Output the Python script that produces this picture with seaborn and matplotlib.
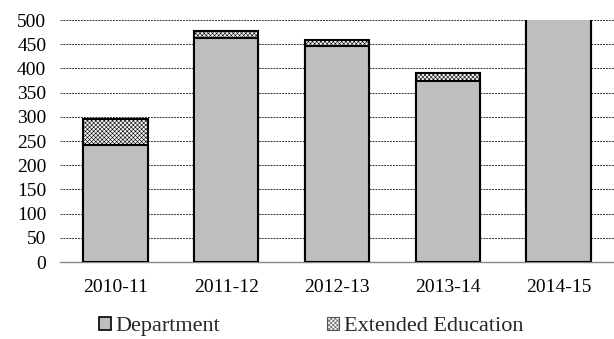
import numpy as np
import matplotlib
matplotlib.use("Agg")
import matplotlib.pyplot as plt
import seaborn as sns
import pandas as pd
from matplotlib.patches import Patch

years = ["2010-11", "2011-12", "2012-13", "2013-14", "2014-15"]
department = [242, 462, 447, 373, 520]
extended = [53, 15, 12, 17, 0]

sns.set_style("white")
plt.rcParams["font.family"] = ["Liberation Serif", "DejaVu Serif"]
plt.rcParams["hatch.color"] = "#b4b4b4"
plt.rcParams["hatch.linewidth"] = 0.4

df = pd.DataFrame({"year": years, "dept": department,
                   "total": np.array(department) + np.array(extended)})

fig = plt.figure(figsize=(6.14, 3.39), dpi=100)
ax = fig.add_axes([0.098, 0.227, 0.902, 0.714])

sns.barplot(data=df, x="year", y="total", color="#f4f4f4", saturation=1,
            width=0.58, edgecolor="black", linewidth=1.5, hatch="xxxxxxxx", ax=ax, zorder=2)
sns.barplot(data=df, x="year", y="dept", color="#bebebe", saturation=1,
            width=0.58, edgecolor="black", linewidth=1.5, ax=ax, zorder=3)

ax.set_ylim(0, 500)
ax.set_xlim(-0.5, 4.5)
ax.set_yticks(range(0, 501, 50))
ax.yaxis.grid(True, color="#333333", linestyle=(0, (2, 1)), linewidth=0.7, zorder=0)
ax.set_axisbelow(True)
for s in ["top", "right", "left"]:
    ax.spines[s].set_visible(False)
ax.spines["bottom"].set_color("#888888")
ax.spines["bottom"].set_linewidth(1)
ax.tick_params(axis="both", length=0, labelsize=14, colors="black")
ax.tick_params(axis="x", pad=12)
ax.tick_params(axis="y", pad=10)
ax.set_xlabel("")
ax.set_ylabel("")

handles = [Patch(facecolor="#bebebe", edgecolor="black", linewidth=1.2, label="Department"),
           Patch(facecolor="#f4f4f4", edgecolor="#555555", linewidth=0.8, hatch="xxxxxxxx",
                 label="Extended Education")]
fig.legend(handles=handles, loc="center", bbox_to_anchor=(0.507, 0.037), ncol=2,
           frameon=False, fontsize=16, handlelength=0.55, handleheight=0.55,
           handletextpad=0.2, columnspacing=4.8, borderpad=0)

fig.savefig("out.png", dpi=100)
